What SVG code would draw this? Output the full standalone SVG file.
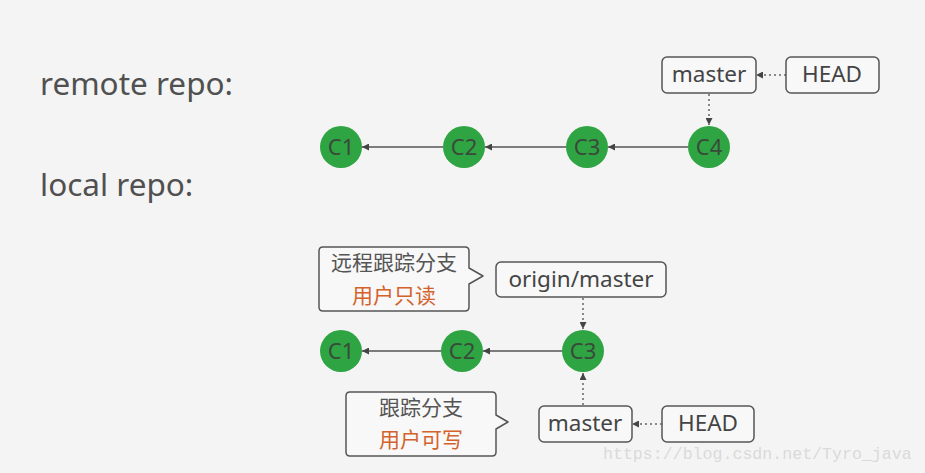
<svg xmlns="http://www.w3.org/2000/svg" width="925" height="473" viewBox="0 0 925 473">
  <defs>
    <marker id="arr" viewBox="0 0 10 10" refX="10" refY="5" markerWidth="7" markerHeight="7" markerUnits="userSpaceOnUse" orient="auto">
      <path d="M0,0 L10,5 L0,10 z" fill="#444"/>
    </marker>
    <style>
      .bg { fill: #f4f4f4; }
      .title { font-family: "Noto Sans", "Open Sans", sans-serif; font-size: 31.5px; fill: #505050; }
      .commit circle { fill: #2ea443; }
      .commit text { font-family: "Noto Sans", "Open Sans", sans-serif; font-size: 22px; fill: #3a4a3a; text-anchor: middle; }
      .ref rect { fill: #f8f8f8; stroke: #555; stroke-width: 1.5; }
      .ref text { font-family: "Noto Sans", "Open Sans", sans-serif; font-size: 22.5px; fill: #444; text-anchor: middle; }
      .note path { fill: #f8f8f8; stroke: #555; stroke-width: 1.5; stroke-linejoin: round; }
      .note text { font-family: "Noto Sans CJK SC", sans-serif; font-size: 21px; text-anchor: middle; }
      .note .t1 { fill: #555; }
      .note .t2 { fill: #d3622c; }
      .solid { stroke: #555; stroke-width: 1.5; fill: none; }
      .dot { stroke: #666; stroke-width: 1.5; stroke-dasharray: 2 3; fill: none; }
      .wm { font-family: "Liberation Mono", monospace; font-size: 16.6px; fill: #dadada; }
    </style>
  </defs>
  <rect class="bg" x="0" y="0" width="925" height="473"/>

  <text class="title" x="40" y="95">remote repo:</text>
  <text class="title" x="40" y="196">local repo:</text>

  <g id="connectors">
    <line class="solid" x1="443" y1="147" x2="362" y2="147" marker-end="url(#arr)"/>
    <line class="solid" x1="566" y1="147" x2="485" y2="147" marker-end="url(#arr)"/>
    <line class="solid" x1="688" y1="147" x2="608" y2="147" marker-end="url(#arr)"/>
    <line class="dot" x1="786" y1="75" x2="756" y2="75" marker-end="url(#arr)"/>
    <line class="dot" x1="709" y1="94" x2="709" y2="125" marker-end="url(#arr)"/>

    <line class="solid" x1="441" y1="351" x2="362" y2="351" marker-end="url(#arr)"/>
    <line class="solid" x1="562" y1="351" x2="483" y2="351" marker-end="url(#arr)"/>
    <line class="dot" x1="583" y1="298" x2="583" y2="329" marker-end="url(#arr)"/>
    <line class="dot" x1="583" y1="405" x2="583" y2="373" marker-end="url(#arr)"/>
    <line class="dot" x1="662" y1="424" x2="632" y2="424" marker-end="url(#arr)"/>
  </g>

  <g id="r-c1" class="commit"><circle cx="341" cy="147" r="21"/><text x="341" y="155">C1</text></g>
  <g id="r-c2" class="commit"><circle cx="464" cy="147" r="21"/><text x="464" y="155">C2</text></g>
  <g id="r-c3" class="commit"><circle cx="587" cy="147" r="21"/><text x="587" y="155">C3</text></g>
  <g id="r-c4" class="commit"><circle cx="709" cy="147" r="21"/><text x="709" y="155">C4</text></g>

  <g id="r-master" class="ref"><rect x="662" y="57" width="94" height="36" rx="5"/><text x="709" y="82">master</text></g>
  <g id="r-head" class="ref"><rect x="786" y="57" width="93" height="36" rx="5"/><text x="832" y="82">HEAD</text></g>

  <g id="l-c1" class="commit"><circle cx="341" cy="351" r="21"/><text x="341" y="359">C1</text></g>
  <g id="l-c2" class="commit"><circle cx="462" cy="351" r="21"/><text x="462" y="359">C2</text></g>
  <g id="l-c3" class="commit"><circle cx="583" cy="351" r="21"/><text x="583" y="359">C3</text></g>

  <g id="l-origin-master" class="ref"><rect x="496" y="262" width="170" height="35" rx="5"/><text x="581" y="287">origin/master</text></g>
  <g id="l-master" class="ref"><rect x="539" y="406" width="93" height="36" rx="5"/><text x="585" y="431">master</text></g>
  <g id="l-head" class="ref"><rect x="662" y="406" width="92" height="36" rx="5"/><text x="708" y="431">HEAD</text></g>

  <g id="note-remote" class="note">
    <path d="M323,247 H465 Q469,247 469,251 V268 L483,276 L469,284 V307 Q469,311 465,311 H323 Q319,311 319,307 V251 Q319,247 323,247 Z"/>
    <text class="t1" x="394" y="270">远程跟踪分支</text>
    <text class="t2" x="394" y="303">用户只读</text>
  </g>

  <g id="note-local" class="note">
    <path d="M350,392 H492 Q496,392 496,396 V415 L508,422 L496,429 V452 Q496,456 492,456 H350 Q346,456 346,452 V396 Q346,392 350,392 Z"/>
    <text class="t1" x="421" y="415">跟踪分支</text>
    <text class="t2" x="421" y="447">用户可写</text>
  </g>

  <text class="wm" x="603" y="459">https://blog.csdn.net/Tyro_java</text>
</svg>
